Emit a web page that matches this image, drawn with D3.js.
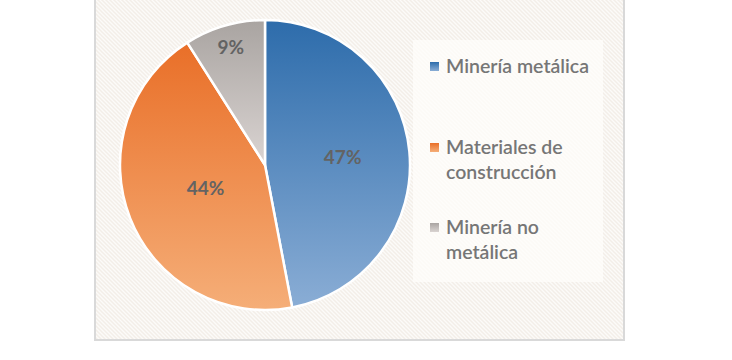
<!DOCTYPE html>
<html><head><meta charset="utf-8">
<script src="https://cdn.jsdelivr.net/npm/d3@7"></script>
<style>html,body{margin:0;padding:0;background:#fff;}svg{display:block;}</style>
</head><body>
<svg id="chart" width="732" height="360"></svg>
<script>
const categories = ["Minería metálica", "Materiales de construcción", "Minería no metálica"];
const values = [47, 44, 9];
const valueLabels = ["47%", "44%", "9%"];
const legendLines = [["Minería metálica"], ["Materiales de", "construcción"], ["Minería no", "metálica"]];

const gradTop = ["#2d6cab", "#e96f28", "#a9a4a1"];
const gradBottom = ["#8aadd5", "#f5ae78", "#dad4d2"];
const labelRadius = [78, 64, 123];

const svg = d3.select("#chart");
const defs = svg.append("defs");

// hatch pattern
const pat = defs.append("pattern").attr("id", "hatch").attr("patternUnits", "userSpaceOnUse")
  .attr("width", 4).attr("height", 4);
pat.append("rect").attr("width", 4).attr("height", 4).attr("fill", "#f3eee8");
pat.append("path").attr("d", "M-1,-1 L5,5 M-1,3 L1,5 M3,-1 L5,1")
  .attr("stroke", "#fcfbf9").attr("stroke-width", 1.4);

values.forEach((v, i) => {
  const g = defs.append("linearGradient").attr("id", "g" + i)
    .attr("x1", 0).attr("y1", 0).attr("x2", 0).attr("y2", 1);
  g.append("stop").attr("offset", "0%").attr("stop-color", gradTop[i]);
  g.append("stop").attr("offset", "100%").attr("stop-color", gradBottom[i]);
});

// chart area
svg.append("rect").attr("x", 95).attr("y", -5).attr("width", 529).attr("height", 345)
  .attr("fill", "url(#hatch)").attr("stroke", "#d9d9d9").attr("stroke-width", 2);

// pie
const cx = 265, cy = 165, r = 145;
const pie = d3.pie().sort(null).value(d => d);
const arcs = pie(values);
const arc = d3.arc().innerRadius(0).outerRadius(r);
const gPie = svg.append("g").attr("transform", `translate(${cx},${cy})`);
gPie.selectAll("path.slice").data(arcs).enter().append("path")
  .attr("class", "slice")
  .attr("d", arc)
  .attr("fill", (d, i) => `url(#g${i})`)
  .attr("stroke", "#ffffff").attr("stroke-width", 2.5).attr("stroke-linejoin", "round");

gPie.selectAll("text.lbl").data(arcs).enter().append("text")
  .attr("class", "lbl")
  .attr("transform", (d, i) => {
    const c = d3.arc().innerRadius(labelRadius[i]).outerRadius(labelRadius[i]).centroid(d);
    return `translate(${c[0]},${c[1]})`;
  })
  .attr("text-anchor", "middle").attr("dy", "0.35em")
  .attr("font-family", "Lato, 'Open Sans', sans-serif").attr("font-weight", "bold")
  .attr("font-size", 19).attr("fill", "#636363")
  .text((d, i) => valueLabels[i]);

// legend
const lg = svg.append("g");
lg.append("rect").attr("x", 413).attr("y", 40).attr("width", 190).attr("height", 242)
  .attr("fill", "#fffdfb").attr("opacity", 0.75);
const legendY = [73, 154, 234];
const lineH = 25;
categories.forEach((c, i) => {
  lg.append("rect").attr("x", 430).attr("y", legendY[i] - 11).attr("width", 9).attr("height", 9)
    .attr("fill", `url(#g${i})`);
  const t = lg.append("text").attr("x", 446).attr("y", legendY[i])
    .attr("font-family", "Lato, 'Open Sans', sans-serif").attr("font-weight", "600")
    .attr("font-size", 19.5).attr("fill", "#767676");
  legendLines[i].forEach((ln, j) => {
    t.append("tspan").attr("x", 446).attr("y", legendY[i] + j * lineH).text(ln);
  });
});
</script>
</body></html>
